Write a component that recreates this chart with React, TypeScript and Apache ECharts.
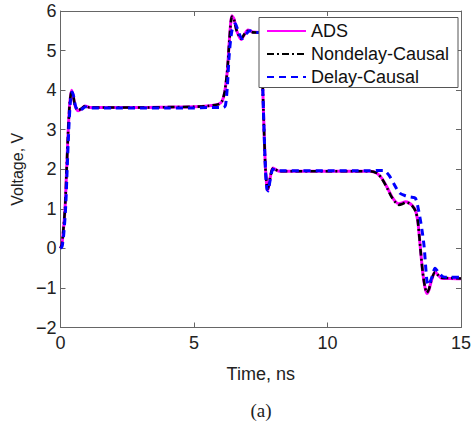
import React, { useEffect, useRef } from "react";
import * as echarts from "echarts";

const seriesNames = ["ADS", "Nondelay-Causal", "Delay-Causal"];
const xTicks = [0, 5, 10, 15];
const yTicks = [-2, -1, 0, 1, 2, 3, 4, 5, 6];

const tADS = [0, 0.05, 0.1, 0.17, 0.23, 0.29, 0.35, 0.42, 0.48, 0.55, 0.66, 0.78, 0.92, 1.1, 2, 3, 4, 5, 5.5, 5.9, 6.05, 6.15, 6.25, 6.33, 6.42, 6.5, 6.6, 6.77, 6.9, 7.02, 7.2, 7.48, 7.53, 7.6, 7.67, 7.73, 7.77, 7.83, 7.95, 8.05, 8.2, 9, 10, 11, 11.6, 11.85, 12.0, 12.12, 12.25, 12.4, 12.55, 12.67, 12.8, 12.92, 13.05, 13.18, 13.3, 13.38, 13.44, 13.5, 13.57, 13.65, 13.72, 13.8, 13.9, 14.03, 14.15, 14.28, 14.6, 15];
const vADS = [0, 0.1, 0.4, 1.0, 2.0, 3.0, 3.7, 4.0, 3.85, 3.6, 3.48, 3.52, 3.6, 3.56, 3.56, 3.56, 3.57, 3.58, 3.6, 3.64, 3.72, 3.95, 4.5, 5.3, 5.88, 5.8, 5.5, 5.28, 5.42, 5.52, 5.47, 5.45, 5.0, 3.5, 2.1, 1.55, 1.48, 1.7, 2.03, 2.0, 1.95, 1.95, 1.95, 1.95, 1.95, 1.9, 1.8, 1.68, 1.52, 1.32, 1.18, 1.13, 1.15, 1.18, 1.15, 1.08, 0.95, 0.7, 0.3, -0.15, -0.63, -0.98, -1.14, -1.05, -0.8, -0.59, -0.68, -0.76, -0.76, -0.77];
const vNondelay = [0, 0.1, 0.42, 1.02, 2.0, 3.0, 3.7, 3.98, 3.84, 3.6, 3.49, 3.53, 3.6, 3.56, 3.56, 3.56, 3.57, 3.58, 3.6, 3.64, 3.72, 3.96, 4.52, 5.3, 5.86, 5.78, 5.5, 5.3, 5.43, 5.5, 5.46, 5.45, 5.0, 3.5, 2.1, 1.56, 1.5, 1.72, 2.02, 1.99, 1.95, 1.95, 1.95, 1.95, 1.95, 1.9, 1.8, 1.67, 1.5, 1.3, 1.16, 1.1, 1.12, 1.16, 1.14, 1.07, 0.94, 0.7, 0.3, -0.15, -0.62, -0.97, -1.12, -1.03, -0.78, -0.6, -0.68, -0.74, -0.75, -0.76];

const tDelay = [0, 0.06, 0.12, 0.19, 0.25, 0.31, 0.37, 0.44, 0.5, 0.57, 0.68, 0.8, 0.94, 1.1, 2, 3, 4, 5, 5.5, 6.1, 6.18, 6.25, 6.32, 6.42, 6.55, 6.65, 6.8, 6.95, 7.1, 7.3, 7.48, 7.53, 7.6, 7.67, 7.73, 7.78, 7.84, 7.96, 8.06, 8.2, 9, 10, 11, 11.6, 11.9, 12.1, 12.3, 12.48, 12.7, 12.92, 13.1, 13.29, 13.41, 13.54, 13.62, 13.72, 13.78, 13.9, 14.03, 14.15, 14.34, 14.6, 15];
const vDelay = [0, 0.05, 0.35, 1.0, 2.0, 3.0, 3.7, 3.95, 3.82, 3.58, 3.48, 3.52, 3.58, 3.55, 3.55, 3.55, 3.55, 3.55, 3.56, 3.56, 3.62, 4.1, 4.9, 5.5, 5.68, 5.5, 5.3, 5.42, 5.5, 5.46, 5.45, 5.0, 3.5, 2.1, 1.5, 1.45, 1.68, 2.0, 1.98, 1.96, 1.96, 1.96, 1.96, 1.96, 1.97, 1.97, 1.85, 1.64, 1.4, 1.33, 1.3, 1.27, 0.97, 0.46, 0.04, -0.8, -0.93, -0.75, -0.5, -0.6, -0.72, -0.73, -0.73];

const FONT = "'Liberation Sans', Arial, sans-serif";
const AXIS_COLOR = "#666";

function pairs(t: number[], v: number[]) {
  return t.map((x, i) => [x, v[i]]);
}

function fmtY(v: number) {
  return v < 0 ? "\u2212" + Math.abs(v) : String(v);
}

export default function App() {
  const ref = useRef<HTMLDivElement>(null);
  useEffect(() => {
    if (!ref.current) return;
    const chart = echarts.init(ref.current, null, { renderer: "svg" });
    const axisCommon = {
      axisLine: { show: true, onZero: false, lineStyle: { color: AXIS_COLOR, width: 1 } },
      axisTick: { show: true, inside: true, length: 5, lineStyle: { color: AXIS_COLOR } },
      splitLine: { show: false },
    };
    chart.setOption({
      animation: false,
      backgroundColor: "#fff",
      grid: { left: 60.5, right: 9.5, top: 11, bottom: 95.5, containLabel: false },
      xAxis: [
        {
          type: "value",
          min: xTicks[0],
          max: xTicks[xTicks.length - 1],
          interval: 5,
          name: "Time, ns",
          nameLocation: "middle",
          nameGap: 37,
          nameTextStyle: { fontSize: 18, color: "#222", fontFamily: FONT },
          axisLabel: { fontSize: 18, color: "#222", fontFamily: FONT, margin: 6 },
          ...axisCommon,
        },
        {
          type: "value",
          position: "top",
          min: xTicks[0],
          max: xTicks[xTicks.length - 1],
          interval: 5,
          axisLabel: { show: false },
          ...axisCommon,
        },
      ],
      yAxis: [
        {
          type: "value",
          min: yTicks[0],
          max: yTicks[yTicks.length - 1],
          interval: 1,
          name: "Voltage, V",
          nameLocation: "middle",
          nameGap: 33,
          nameTextStyle: { fontSize: 16, color: "#222", fontFamily: FONT },
          axisLabel: { fontSize: 18, color: "#222", fontFamily: FONT, margin: 4, formatter: fmtY },
          ...axisCommon,
        },
        {
          type: "value",
          position: "right",
          min: yTicks[0],
          max: yTicks[yTicks.length - 1],
          interval: 1,
          axisLabel: { show: false },
          ...axisCommon,
        },
      ],
      legend: {
        orient: "vertical",
        left: 266,
        top: 21,
        padding: 0,
        itemWidth: 39,
        itemHeight: 12,
        itemGap: 3,
        z: 6,
        itemStyle: { opacity: 0, borderWidth: 0 },
        textStyle: { fontSize: 18, lineHeight: 20, color: "#111", fontFamily: FONT },
        data: seriesNames,
      },
      graphic: [
        {
          type: "rect",
          z: 5,
          shape: { x: 259, y: 17.5, width: 199, height: 70 },
          style: { fill: "#fff", stroke: "#555", lineWidth: 1 },
        },
        {
          type: "text",
          z: 5,
          x: 261,
          y: 410,
          style: {
            text: "(a)",
            fontSize: 19,
            fontFamily: "Liberation Serif",
            fill: "#222",
            align: "center",
            verticalAlign: "middle",
          },
        },
      ],
      series: [
        {
          name: seriesNames[0],
          type: "line",
          symbol: "none",
          smooth: 0.25,
          data: pairs(tADS, vADS),
          lineStyle: { color: "#ff00ff", width: 3, type: "solid" },
          itemStyle: { color: "#ff00ff" },
          z: 2,
        },
        {
          name: seriesNames[1],
          type: "line",
          symbol: "none",
          smooth: 0.25,
          data: pairs(tADS, vNondelay),
          lineStyle: { color: "#000", width: 2.6, type: [7, 3, 2, 3] },
          itemStyle: { color: "#000" },
          z: 3,
        },
        {
          name: seriesNames[2],
          type: "line",
          symbol: "none",
          smooth: 0.25,
          data: pairs(tDelay, vDelay),
          lineStyle: { color: "#0000ff", width: 3, type: [7, 5] },
          itemStyle: { color: "#0000ff" },
          z: 4,
        },
      ],
    });
    return () => chart.dispose();
  }, []);
  return (
    <div
      ref={ref}
      style={{ position: "fixed", left: 0, top: 0, width: 474, height: 423, background: "#fff" }}
    />
  );
}
